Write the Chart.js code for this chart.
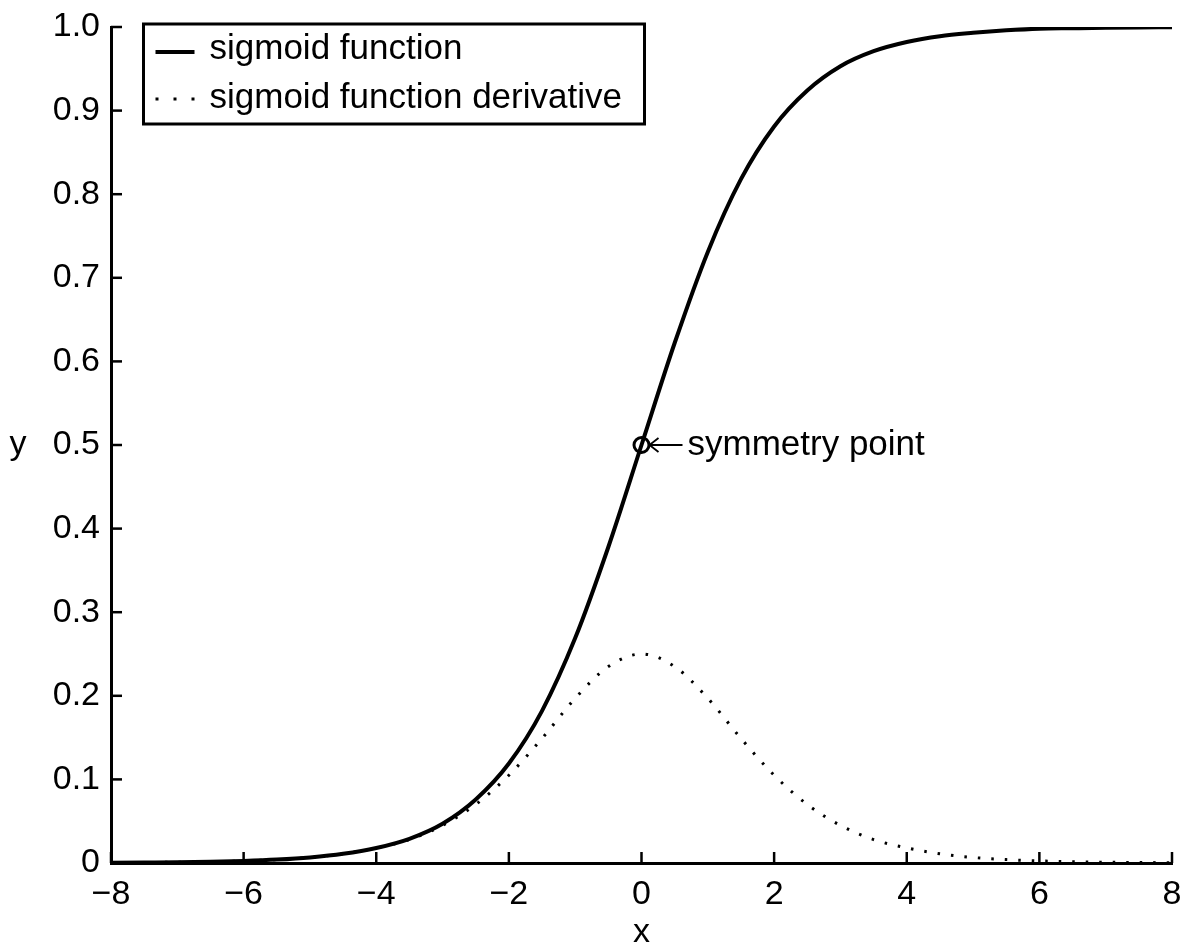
<!DOCTYPE html>
<html>
<head>
<meta charset="utf-8">
<script src="https://cdn.jsdelivr.net/npm/chart.js@4/dist/chart.umd.min.js"></script>
<style>
  html, body { margin: 0; padding: 0; background: #fff; }
  #wrap { width: 1187px; height: 944px; }
</style>
</head>
<body>
<div id="wrap"><canvas id="sigmoidChart" width="1187" height="944"></canvas></div>
<script>
// nilai
const xValues = [-8, -7.5, -7, -6.5, -6, -5.5, -5, -4.5, -4, -3.5, -3, -2.5, -2, -1.5, -1, -0.5,
    0, 0.5, 1, 1.5, 2, 2.5, 3, 3.5, 4, 4.5, 5, 5.5, 6, 6.5, 7, 7.5, 8];
const sigmoidValues = [0.0003, 0.0006, 0.0009, 0.0015, 0.0025, 0.0041, 0.0067, 0.011, 0.018, 0.029,
    0.047, 0.076, 0.119, 0.182, 0.269, 0.378, 0.5, 0.622, 0.731, 0.818, 0.881, 0.924, 0.953,
    0.971, 0.982, 0.989, 0.993, 0.996, 0.998, 0.9985, 0.999, 0.9994, 0.9997];
const derivativeValues = [0.0003, 0.0006, 0.0009, 0.0015, 0.0025, 0.0041, 0.0066, 0.011, 0.018, 0.028,
    0.045, 0.070, 0.105, 0.149, 0.197, 0.235, 0.25, 0.235, 0.197, 0.149, 0.105, 0.070, 0.045,
    0.028, 0.018, 0.011, 0.0066, 0.0041, 0.0025, 0.0015, 0.0009, 0.0006, 0.0003];
const symmetryPoint = [{ x: 0, y: 0.5 }];
const seriesLabels = ['sigmoid function', 'sigmoid function derivative'];
const xTicks = [-8, -6, -4, -2, 0, 2, 4, 6, 8];
const yTicks = [0, 0.1, 0.2, 0.3, 0.4, 0.5, 0.6, 0.7, 0.8, 0.9, 1.0];

const FONT = "'Liberation Sans', Arial, Helvetica, sans-serif";

// tick ke dalam + label sumbu + anotasi + legenda
const extras = {
    id: 'extras',
    afterDraw(chart) {
        const ctx = chart.ctx;
        const xs = chart.scales.x, ys = chart.scales.y;
        const area = chart.chartArea;
        ctx.save();
        ctx.strokeStyle = '#000';
        ctx.lineWidth = 2.5;
        xTicks.forEach(v => {
            const px = xs.getPixelForValue(v);
            ctx.beginPath(); ctx.moveTo(px, area.bottom); ctx.lineTo(px, area.bottom - 11); ctx.stroke();
        });
        yTicks.forEach(v => {
            const py = ys.getPixelForValue(v);
            ctx.beginPath(); ctx.moveTo(area.left, py); ctx.lineTo(area.left + 11, py); ctx.stroke();
        });

        // label sumbu
        ctx.fillStyle = '#000';
        ctx.font = '34px ' + FONT;
        ctx.textAlign = 'center';
        ctx.textBaseline = 'alphabetic';
        ctx.fillText('y', 18, ys.getPixelForValue(0.5) + 9);
        ctx.fillText('x', xs.getPixelForValue(0), 942);

        // anotasi titik simetri
        const sx = xs.getPixelForValue(symmetryPoint[0].x);
        const sy = ys.getPixelForValue(symmetryPoint[0].y);
        ctx.lineWidth = 1.8;
        ctx.beginPath(); ctx.moveTo(sx + 8, sy); ctx.lineTo(sx + 41, sy); ctx.stroke();
        ctx.beginPath(); ctx.moveTo(sx + 17, sy - 7); ctx.lineTo(sx + 8, sy); ctx.lineTo(sx + 17, sy + 7); ctx.stroke();
        ctx.textAlign = 'left';
        ctx.font = '35px ' + FONT;
        ctx.fillText('symmetry point', sx + 46, sy + 10);

        // legenda
        const bx = 143.5, by = 24, bw = 501, bh = 100;
        ctx.lineWidth = 3;
        ctx.strokeRect(bx, by, bw, bh);
        const rowY = [52, 99];
        const textY = [59, 108];
        chart.data.datasets.slice(0, 2).forEach((ds, i) => {
            const ly = rowY[i];
            ctx.lineWidth = ds.borderWidth;
            ctx.setLineDash(ds.borderDash ? [3, 15] : []);
            ctx.beginPath(); ctx.moveTo(bx + 12, ly); ctx.lineTo(bx + 51, ly); ctx.stroke();
            ctx.setLineDash([]);
            ctx.fillText(ds.label, bx + 66, textY[i]);
        });
        ctx.restore();
    }
};

const ctx = document.getElementById('sigmoidChart').getContext('2d');
new Chart(ctx, {
    type: 'line',
    data: {
        datasets: [
            {
                label: seriesLabels[0],
                data: xValues.map((x, i) => ({ x: x, y: sigmoidValues[i] })),
                borderColor: '#000',
                borderWidth: 4,
                pointRadius: 0,
                cubicInterpolationMode: 'monotone',
                fill: false,
            },
            {
                label: seriesLabels[1],
                data: xValues.map((x, i) => ({ x: x, y: derivativeValues[i] })),
                borderColor: '#000',
                borderWidth: 3,
                borderDash: [2.5, 11],
                pointRadius: 0,
                cubicInterpolationMode: 'monotone',
                fill: false,
            },
            {
                label: 'symmetry point',
                data: symmetryPoint,
                showLine: false,
                pointRadius: 7.5,
                pointBorderWidth: 3,
                pointBorderColor: '#000',
                pointBackgroundColor: 'rgba(0,0,0,0)',
            },
        ],
    },
    options: {
        responsive: false,
        animation: false,
        layout: { padding: { top: 27, right: 15, left: 0, bottom: 0 } },
        plugins: { legend: { display: false }, tooltip: { enabled: false } },
        scales: {
            x: {
                type: 'linear',
                min: -8, max: 8,
                afterBuildTicks: s => { s.ticks = xTicks.map(v => ({ value: v })); },
                afterFit: s => { s.height = 81; s.paddingLeft = 0; s.paddingRight = 0; },
                grid: { display: true, drawOnChartArea: false, drawTicks: false },
                border: { display: true, color: '#000', width: 3 },
                ticks: {
                    padding: 11,
                    color: '#000',
                    font: { family: FONT, size: 34 },
                    maxRotation: 0,
                    callback: v => (v < 0 ? '\u2212' + Math.abs(v) : String(v)),
                },
            },
            y: {
                min: 0, max: 1,
                afterBuildTicks: s => { s.ticks = yTicks.map(v => ({ value: v })); },
                afterFit: s => { s.width = 111; s.paddingTop = 0; s.paddingBottom = 0; },
                grid: { display: true, drawOnChartArea: false, drawTicks: false },
                border: { display: true, color: '#000', width: 3 },
                ticks: {
                    padding: 11,
                    color: '#000',
                    font: { family: FONT, size: 34 },
                    callback: v => (v === 0 ? '0' : v.toFixed(1)),
                },
            },
        },
    },
    plugins: [extras],
});
</script>
</body>
</html>
